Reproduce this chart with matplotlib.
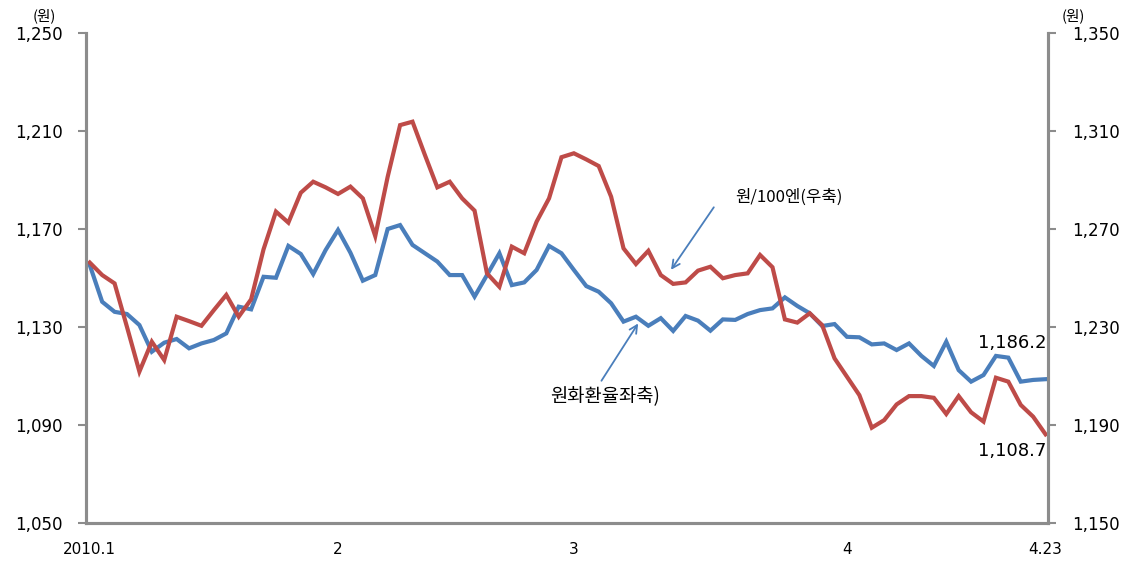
import matplotlib
matplotlib.use('Agg')
import matplotlib.pyplot as plt
import numpy as np

# 원/달러 (좌축), 2010.1 ~ 4.23
usd = [1155.3, 1140.3, 1136.2, 1135.3, 1130.8, 1119.9, 1123.6, 1125.1, 1121.3, 1123.3,
       1124.7, 1127.4, 1138.3, 1137.2, 1150.5, 1150.1, 1163.1, 1159.8, 1151.6, 1161.4,
       1169.6, 1160.3, 1148.9, 1151.2, 1170.0, 1171.6, 1163.5, 1160.1, 1156.7, 1151.2,
       1151.2, 1142.4, 1151.2, 1160.1, 1147.1, 1148.2, 1153.3, 1163.1, 1160.1, 1153.3,
       1146.7, 1144.4, 1139.7, 1132.2, 1134.2, 1130.5, 1133.6, 1128.4, 1134.5, 1132.6,
       1128.5, 1133.1, 1132.9, 1135.3, 1136.9, 1137.6, 1142.1, 1138.6, 1135.6, 1130.4,
       1131.2, 1126.0, 1125.8, 1122.9, 1123.3, 1120.6, 1123.3, 1118.2, 1114.1, 1124.0,
       1112.4, 1107.7, 1110.4, 1118.2, 1117.5, 1107.7, 1108.4, 1108.7]
# 원/100엔 (우축)
jpy = [1256.3, 1251.2, 1247.8, 1230.0, 1211.8, 1224.0, 1216.5, 1234.2, 1232.4, 1230.5,
       1236.9, 1243.1, 1234.2, 1241.3, 1261.7, 1277.1, 1272.6, 1284.8, 1289.3, 1287.0,
       1284.3, 1287.3, 1282.5, 1267.1, 1291.3, 1312.4, 1313.8, 1300.2, 1287.0, 1289.3,
       1282.5, 1277.5, 1251.9, 1246.4, 1262.8, 1260.1, 1273.0, 1282.5, 1299.3, 1300.9,
       1298.4, 1295.7, 1283.2, 1262.1, 1255.7, 1261.1, 1251.2, 1247.6, 1248.2, 1253.0,
       1254.6, 1249.9, 1251.2, 1251.9, 1259.4, 1254.4, 1233.1, 1231.8, 1235.6, 1230.8,
       1217.2, 1209.7, 1202.2, 1188.9, 1192.0, 1198.4, 1201.8, 1201.8, 1201.1, 1194.5,
       1201.8, 1195.2, 1191.4, 1209.3, 1207.7, 1198.2, 1193.4, 1186.2]
xtick_pos = [0, 20, 39, 61, 77]
xtick_labels = ['2010.1', '2', '3', '4', '4.23']
left_ticks = [1050, 1090, 1130, 1170, 1210, 1250]
right_ticks = [1150, 1190, 1230, 1270, 1310, 1350]

kr = ['Noto Sans CJK KR', 'DejaVu Sans']
blue = '#4A7EBB'
red = '#BE4B48'
gray = '#8C8C8C'

x = np.arange(len(usd))
fig = plt.figure(figsize=(11.29, 5.61), dpi=100)
ax = fig.add_axes([0.0762, 0.0677, 0.8521, 0.8735])
ax2 = ax.twinx()

ax.plot(x, usd, color=blue, lw=3.0, solid_joinstyle='miter')
ax2.plot(x, jpy, color=red, lw=3.0, solid_joinstyle='miter')

ax.set_xlim(-0.3, 77.2)
ax.set_ylim(1050, 1250)
ax2.set_ylim(1150, 1350)
ax.set_yticks(left_ticks)
ax.set_yticklabels(['{:,}'.format(v) for v in left_ticks])
ax2.set_yticks(right_ticks)
ax2.set_yticklabels(['{:,}'.format(v) for v in right_ticks])
ax.set_xticks(xtick_pos)
ax.set_xticklabels(xtick_labels, fontsize=11)

for a in (ax, ax2):
    a.spines['top'].set_visible(False)
    for s in ('left', 'right', 'bottom'):
        a.spines[s].set_color(gray)
        a.spines[s].set_linewidth(2.2)
ax.tick_params(axis='y', length=6, width=1.5, color=gray, labelsize=12, pad=11)
ax2.tick_params(axis='y', length=6, width=1.5, color=gray, labelsize=12, pad=11)
ax.tick_params(axis='x', length=0, pad=14)

fig.text(0.039, 0.972, '(원)', family=kr, fontsize=10.5, ha='center', va='center')
fig.text(0.951, 0.972, '(원)', family=kr, fontsize=10.5, ha='center', va='center')

ax.annotate('', xy=(46.7, 1152.4), xytext=(50.4, 1179.8),
            arrowprops=dict(arrowstyle='->', color=blue, lw=1.3, mutation_scale=14))
ax.text(52.0, 1183.0, '원/100엔(우축)', family=kr, fontsize=12, ha='left', va='center')
ax.annotate('', xy=(44.3, 1132.4), xytext=(41.1, 1107.1),
            arrowprops=dict(arrowstyle='->', color=blue, lw=1.3, mutation_scale=14))
ax.text(37.1, 1101.4, '원화환율좌축)', family=kr, fontsize=13.5, ha='left', va='center')

ax.text(77.1, 1123.5, '1,186.2', fontsize=13, ha='right', va='center')
ax.text(77.1, 1079.4, '1,108.7', fontsize=13, ha='right', va='center')

plt.savefig('out.png', dpi=100)
